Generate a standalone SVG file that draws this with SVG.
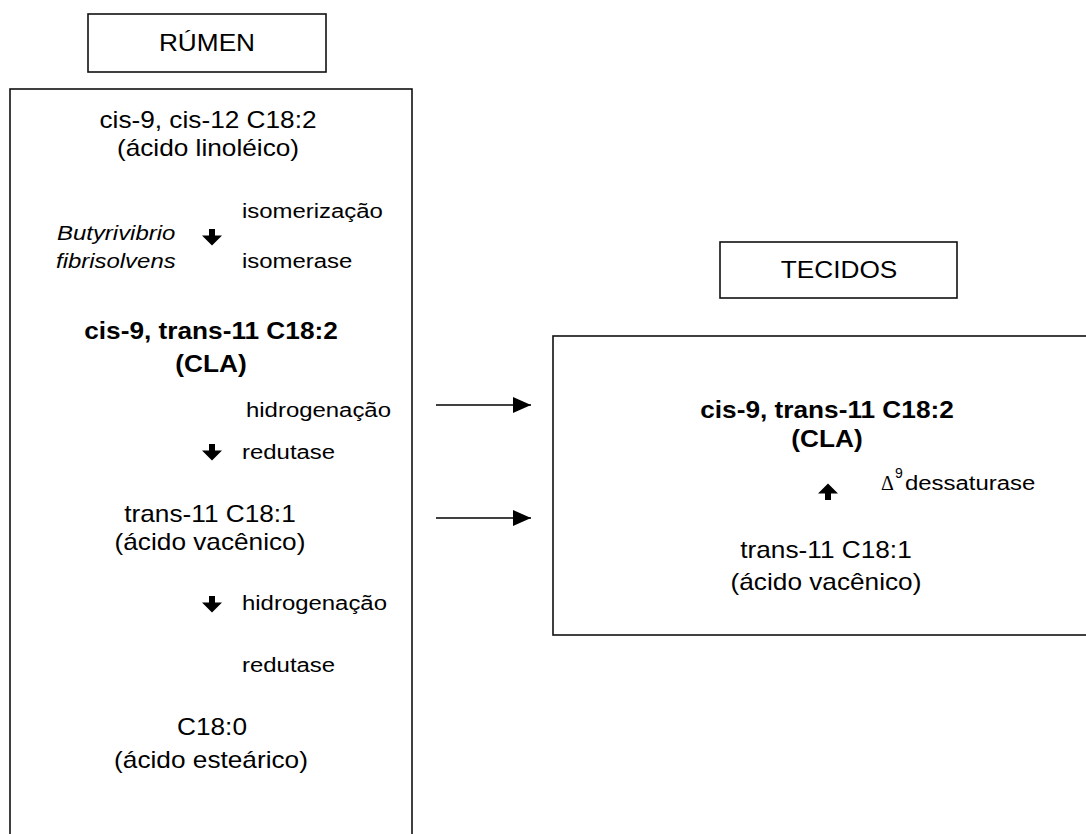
<svg xmlns="http://www.w3.org/2000/svg" xmlns:xlink="http://www.w3.org/1999/xlink" width="1086" height="834" viewBox="0 0 1086 834">
  <style>
    .box { fill: #fff; stroke: #111; stroke-width: 1.6; }
    .t { font-family: "Liberation Sans", Arial, sans-serif; font-size: 23px; fill: #000; }
    .lb { font-family: "Liberation Sans", Arial, sans-serif; font-size: 21px; fill: #000; }
    .b { font-weight: bold; }
    .i { font-style: italic; }
    .m { text-anchor: middle; }
    .link { stroke: #000; stroke-width: 1.6; fill: none; }
    .sym { font-family: "Liberation Serif", "Times New Roman", serif; font-size: 20px; fill: #000; }
    .sup { font-family: "Liberation Sans", Arial, sans-serif; font-size: 14px; fill: #000; }
  </style>
  <defs>
    <!-- bold step arrow, pointing down, origin at the top centre -->
    <path id="dn" d="M-3 0 h6 v6.5 h7 l-10 10 l-10 -10 h7 z" fill="#000"/>
    <marker id="head" markerUnits="userSpaceOnUse" markerWidth="20" markerHeight="18" refX="18" refY="8" orient="auto">
      <path d="M0 0 L18 8 L0 16 z" fill="#000"/>
    </marker>
  </defs>

  <rect width="1086" height="834" fill="#fff"/>

  <!-- section headers -->
  <g id="header-rumen">
    <rect class="box" x="88" y="14" width="238" height="58"/>
    <text class="t m" transform="translate(207 51) scale(1.14 1)">RÚMEN</text>
  </g>
  <g id="header-tecidos">
    <rect class="box" x="720" y="242" width="237" height="56"/>
    <text class="t m" transform="translate(839 278) scale(1.14 1)">TECIDOS</text>
  </g>

  <!-- rumen pathway -->
  <g id="rumen">
    <rect class="box" x="10" y="89" width="402" height="800"/>
    <text class="t m" transform="translate(208 128) scale(1.14 1)">cis-9, cis-12 C18:2</text>
    <text class="t m" transform="translate(208 156) scale(1.14 1)">(ácido linoléico)</text>

    <text class="lb" transform="translate(242 218) scale(1.14 1)">isomerização</text>
    <text class="lb i" transform="translate(57 240) scale(1.14 1)">Butyrivibrio</text>
    <use xlink:href="#dn" x="212" y="229"/>
    <text class="lb i" transform="translate(56 268) scale(1.14 1)">fibrisolvens</text>
    <text class="lb" transform="translate(242 268) scale(1.14 1)">isomerase</text>

    <text class="t b m" transform="translate(211 339) scale(1.14 1)">cis-9, trans-11 C18:2</text>
    <text class="t b m" transform="translate(211 372) scale(1.14 1)">(CLA)</text>

    <text class="lb" transform="translate(246 417) scale(1.14 1)">hidrogenação</text>
    <use xlink:href="#dn" x="212" y="444"/>
    <text class="lb" transform="translate(242 459) scale(1.14 1)">redutase</text>

    <text class="t m" transform="translate(210 522) scale(1.14 1)">trans-11 C18:1</text>
    <text class="t m" transform="translate(210 550) scale(1.14 1)">(ácido vacênico)</text>

    <use xlink:href="#dn" x="212" y="596"/>
    <text class="lb" transform="translate(242 610) scale(1.14 1)">hidrogenação</text>
    <text class="lb" transform="translate(242 672) scale(1.14 1)">redutase</text>

    <text class="t m" transform="translate(212 735) scale(1.14 1)">C18:0</text>
    <text class="t m" transform="translate(211 768) scale(1.14 1)">(ácido esteárico)</text>
  </g>

  <!-- tissue pathway -->
  <g id="tecidos">
    <rect class="box" x="553" y="336" width="560" height="299"/>
    <text class="t b m" transform="translate(827 418) scale(1.14 1)">cis-9, trans-11 C18:2</text>
    <text class="t b m" transform="translate(827 447) scale(1.14 1)">(CLA)</text>

    <use xlink:href="#dn" transform="translate(828 500) rotate(180)"/>
    <text class="sym" x="881" y="490">Δ</text>
    <text class="sup" x="895" y="478">9</text>
    <text class="lb" transform="translate(905 490) scale(1.14 1)">dessaturase</text>

    <text class="t m" transform="translate(826 558) scale(1.14 1)">trans-11 C18:1</text>
    <text class="t m" transform="translate(826 590) scale(1.14 1)">(ácido vacênico)</text>
  </g>

  <!-- transfer from rumen to tissues -->
  <g id="connectors">
    <line class="link" x1="436" y1="405" x2="531" y2="405" marker-end="url(#head)"/>
    <line class="link" x1="436" y1="518" x2="531" y2="518" marker-end="url(#head)"/>
  </g>
</svg>
